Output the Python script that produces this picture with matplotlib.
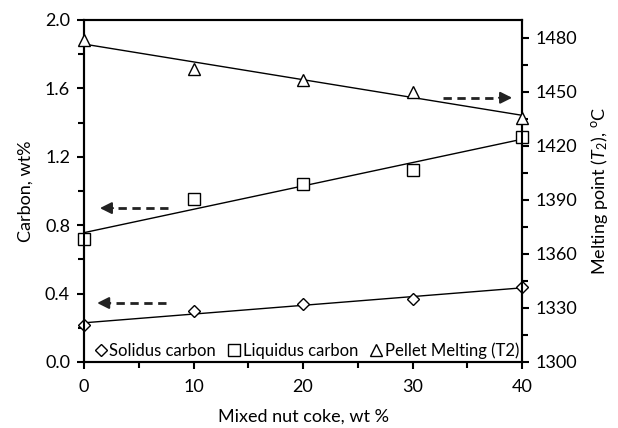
import numpy as np
import matplotlib
matplotlib.use("Agg")
import matplotlib.pyplot as plt
from matplotlib.ticker import MultipleLocator, FixedLocator, FormatStrFormatter

plt.rcParams['font.family'] = ['Lato', 'DejaVu Sans']
plt.rcParams['mathtext.fontset'] = 'custom'
plt.rcParams['mathtext.rm'] = 'Lato'
plt.rcParams['mathtext.it'] = 'Lato:italic'

coke = [0, 10, 20, 30, 40]
solidus = [0.216, 0.298, 0.339, 0.367, 0.437]
liquidus = [0.717, 0.951, 1.043, 1.123, 1.314]
melting = [1479, 1462.7, 1456.5, 1450.2, 1435.8]

fig = plt.figure(figsize=(6.18, 4.28), dpi=100)
ax = fig.add_axes([84/618, 1 - 362/428, (522-84)/618, (362-20)/428])
ax2 = ax.twinx()

x = np.array(coke, dtype=float)
xx = np.array([0, 40], dtype=float)

for data, mk, lab, msz in [(solidus, 'D', 'Solidus carbon', 6.5),
                            (liquidus, 's', 'Liquidus carbon', 8)]:
    p = np.polyfit(x, data, 1)
    ax.plot(xx, np.polyval(p, xx), color='black', lw=1, zorder=2)
    ax.plot(x, data, linestyle='none', marker=mk, markersize=msz,
            markerfacecolor='white', markeredgecolor='black', markeredgewidth=1,
            label=lab, zorder=3, clip_on=False)

p = np.polyfit(x, melting, 1)
ax2.plot(xx, np.polyval(p, xx), color='black', lw=1, zorder=2)
ax2.plot(x, melting, linestyle='none', marker='^', markersize=8,
         markerfacecolor='white', markeredgecolor='black', markeredgewidth=1,
         label='Pellet Melting (T2)', zorder=3, clip_on=False)

ax.set_xlim(0, 40)
ax.set_ylim(0, 2.0)
ax2.set_ylim(1300, 1490)

ax.xaxis.set_major_locator(MultipleLocator(10))
ax.xaxis.set_minor_locator(MultipleLocator(5))
ax.yaxis.set_major_locator(MultipleLocator(0.4))
ax.yaxis.set_minor_locator(MultipleLocator(0.2))
ax.yaxis.set_major_formatter(FormatStrFormatter('%.1f'))
ax2.yaxis.set_major_locator(FixedLocator(np.arange(1300, 1491, 30)))
ax2.yaxis.set_minor_locator(FixedLocator(np.arange(1315, 1491, 30)))

for a in (ax, ax2):
    for s in a.spines.values():
        s.set_linewidth(1.5)
    a.tick_params(which='major', length=5, width=1.5, labelsize=13, direction='out')
    a.tick_params(which='minor', length=4, width=1.5, direction='out')
ax.tick_params(axis='x', pad=7)
ax.tick_params(axis='y', pad=5)
ax2.tick_params(axis='y', pad=5)

ax.set_xlabel('Mixed nut coke, wt %', fontsize=13, labelpad=10)
ax.set_ylabel('Carbon, wt%', fontsize=13, labelpad=8)
ax2.set_ylabel(r'Melting point ($T_2$), $^{\rm o}$C', fontsize=13, labelpad=8)

# dashed arrows: dashed shaft + solid head
def dashed_arrow(a, x0, x1, y):
    direction = np.sign(x1 - x0)
    head_start = x1 - direction * 1.2
    a.plot([x0, head_start], [y, y], color='#222222', lw=2, linestyle=(0, (3, 2)),
           solid_capstyle='butt', dash_capstyle='butt', zorder=4)
    a.annotate('', xy=(x1, y), xytext=(head_start, y),
               arrowprops=dict(arrowstyle='-|>,head_length=0.7,head_width=0.35',
                               lw=1.5, color='#222222', shrinkA=0, shrinkB=0),
               zorder=4)

dashed_arrow(ax, 7.7, 1.45, 0.90)
dashed_arrow(ax, 7.5, 1.2, 0.345)
dashed_arrow(ax2, 32.8, 39.1, 1446.8)

h1, l1 = ax.get_legend_handles_labels()
h2, l2 = ax2.get_legend_handles_labels()
ax2.legend(h1 + h2, l1 + l2, loc='lower center', ncol=3, frameon=False,
           fontsize=12, handlelength=0.6, handletextpad=0.2, columnspacing=0.8,
           borderaxespad=0.0, bbox_to_anchor=(0.51, -0.01))

fig.savefig('out.png', dpi=100)
